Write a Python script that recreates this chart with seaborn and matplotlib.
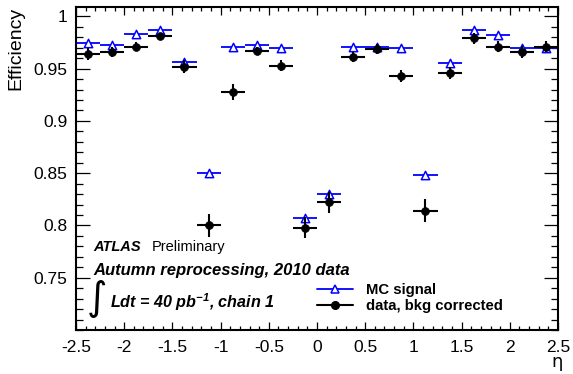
import numpy as np
import pandas as pd
import matplotlib
matplotlib.use("Agg")
import matplotlib.pyplot as plt
from matplotlib.lines import Line2D
from matplotlib.ticker import MultipleLocator
import seaborn as sns

# eta bins (centres, width 0.25)
eta = [-2.375, -2.125, -1.875, -1.625, -1.375, -1.125, -0.875, -0.625, -0.375, -0.125,
       0.125, 0.375, 0.625, 0.875, 1.125, 1.375, 1.625, 1.875, 2.125, 2.375]
eta_halfwidth = 0.125

mc_eff = [0.975, 0.973, 0.983, 0.987, 0.956, 0.850, 0.971, 0.973, 0.970, 0.807,
          0.830, 0.971, 0.971, 0.970, 0.848, 0.955, 0.987, 0.982, 0.970, 0.970]
mc_err = [0.001] * 20

data_eff = [0.964, 0.966, 0.971, 0.981, 0.952, 0.800, 0.928, 0.967, 0.953, 0.798,
            0.822, 0.961, 0.969, 0.943, 0.814, 0.946, 0.979, 0.971, 0.966, 0.971]
data_err = [0.006, 0.005, 0.0045, 0.003, 0.006, 0.011, 0.0077, 0.004, 0.005, 0.010,
            0.010, 0.005, 0.0045, 0.006, 0.011, 0.006, 0.005, 0.005, 0.0057, 0.0055]

xticks = [-2.5, -2, -1.5, -1, -0.5, 0, 0.5, 1, 1.5, 2, 2.5]
yticks = [0.75, 0.8, 0.85, 0.9, 0.95, 1.0]

sns.set_style("ticks")
plt.rcParams["font.family"] = ["Liberation Sans", "DejaVu Sans"]
plt.rcParams["text.color"] = "black"
plt.rcParams["axes.labelcolor"] = "black"
plt.rcParams["xtick.color"] = "black"
plt.rcParams["ytick.color"] = "black"
plt.rcParams["mathtext.fontset"] = "custom"
plt.rcParams["mathtext.rm"] = "Liberation Sans:bold:italic"
plt.rcParams["mathtext.it"] = "Liberation Sans:bold:italic"
plt.rcParams["mathtext.bf"] = "Liberation Sans:bold:italic"

df_mc = pd.DataFrame({"eta": eta, "eff": mc_eff, "err": mc_err})
df_data = pd.DataFrame({"eta": eta, "eff": data_eff, "err": data_err})

fig = plt.figure(figsize=(5.73, 3.74), dpi=100)
ax = fig.add_axes([76 / 573, 1 - 330 / 374, 482 / 573, 323 / 374])

mc_color = "#0000ff"

# MC signal: horizontal bin-width bars with open triangles
ax.errorbar(df_mc["eta"], df_mc["eff"], xerr=eta_halfwidth, yerr=df_mc["err"],
            fmt="none", ecolor=mc_color, elinewidth=1.3, capsize=0, zorder=2)
sns.scatterplot(data=df_mc, x="eta", y="eff", marker="^", s=36, facecolor="white",
                edgecolor=mc_color, linewidth=1.1, ax=ax, zorder=3, legend=False)

# Data: full error crosses with filled circles
ax.errorbar(df_data["eta"], df_data["eff"], xerr=eta_halfwidth, yerr=df_data["err"],
            fmt="none", ecolor="black", elinewidth=1.5, capsize=0, zorder=4)
sns.scatterplot(data=df_data, x="eta", y="eff", marker="o", s=32, color="black",
                edgecolor="black", linewidth=0.5, ax=ax, zorder=5, legend=False)

ax.set_xlim(-2.5, 2.5)
ax.set_ylim(0.7, 1.009)
ax.set_xticks(xticks)
ax.set_xticklabels([f"{t:g}" for t in xticks])
ax.set_yticks(yticks)
ax.set_yticklabels([f"{t:g}" for t in yticks])
ax.xaxis.set_minor_locator(MultipleLocator(0.1))
ax.yaxis.set_minor_locator(MultipleLocator(0.01))
ax.set_xlabel("")
ax.set_ylabel("")

ax.tick_params(axis="both", which="both", direction="in", top=True, right=True,
               labelsize=12.5, width=0.9, colors="black")
ax.tick_params(axis="x", which="major", length=5.8, pad=7)
ax.tick_params(axis="x", which="minor", length=2.8)
ax.tick_params(axis="y", which="major", length=10, pad=6)
ax.tick_params(axis="y", which="minor", length=5)
for s in ax.spines.values():
    s.set_linewidth(1.5)
    s.set_color("black")

fig.text(1 - 16 / 573, 1 - 362 / 374, "η", fontsize=13, ha="center", va="center",
         family=["DejaVu Sans"], color="black")
fig.text(16 / 573, 1 - 7 / 374, "Efficiency", fontsize=14, rotation=90,
         ha="center", va="top", color="black")

# Labels inside the frame
fig.text(93 / 573, 1 - 247 / 374, "ATLAS", fontsize=10.5, fontweight="bold",
         fontstyle="italic", ha="left", va="center")
fig.text(152 / 573, 1 - 247 / 374, "Preliminary", fontsize=10.5,
         ha="left", va="center")
fig.text(93 / 573, 1 - 270 / 374, "Autumn reprocessing, 2010 data", fontsize=12,
         fontweight="bold", fontstyle="italic", ha="left", va="center")
fig.text(96 / 573, 1 - 299 / 374, r"$\int$", fontsize=20, ha="center", va="center",
         math_fontfamily="dejavusans")
fig.text(110 / 573, 1 - 302 / 374, r"Ldt = 40 pb$^{-1}$, chain 1", fontsize=11.6,
         fontweight="bold", fontstyle="italic", ha="left", va="center")

handles = [
    Line2D([], [], color=mc_color, lw=1.3, marker="^", markersize=6,
           markerfacecolor="white", markeredgecolor=mc_color, markeredgewidth=1.1),
    Line2D([], [], color="black", lw=1.5, marker="o", markersize=5.5,
           markerfacecolor="black", markeredgecolor="black"),
]
leg = ax.legend(handles, ["MC signal", "data, bkg corrected"],
                loc="upper left", bbox_to_anchor=(317 / 573, 1 - 283 / 374),
                bbox_transform=fig.transFigure, frameon=False, handlelength=2.4,
                handletextpad=0.87, labelspacing=0.15, borderpad=0, borderaxespad=0,
                prop={"size": 10.7, "weight": "bold"})

fig.savefig("out.png", dpi=100)
